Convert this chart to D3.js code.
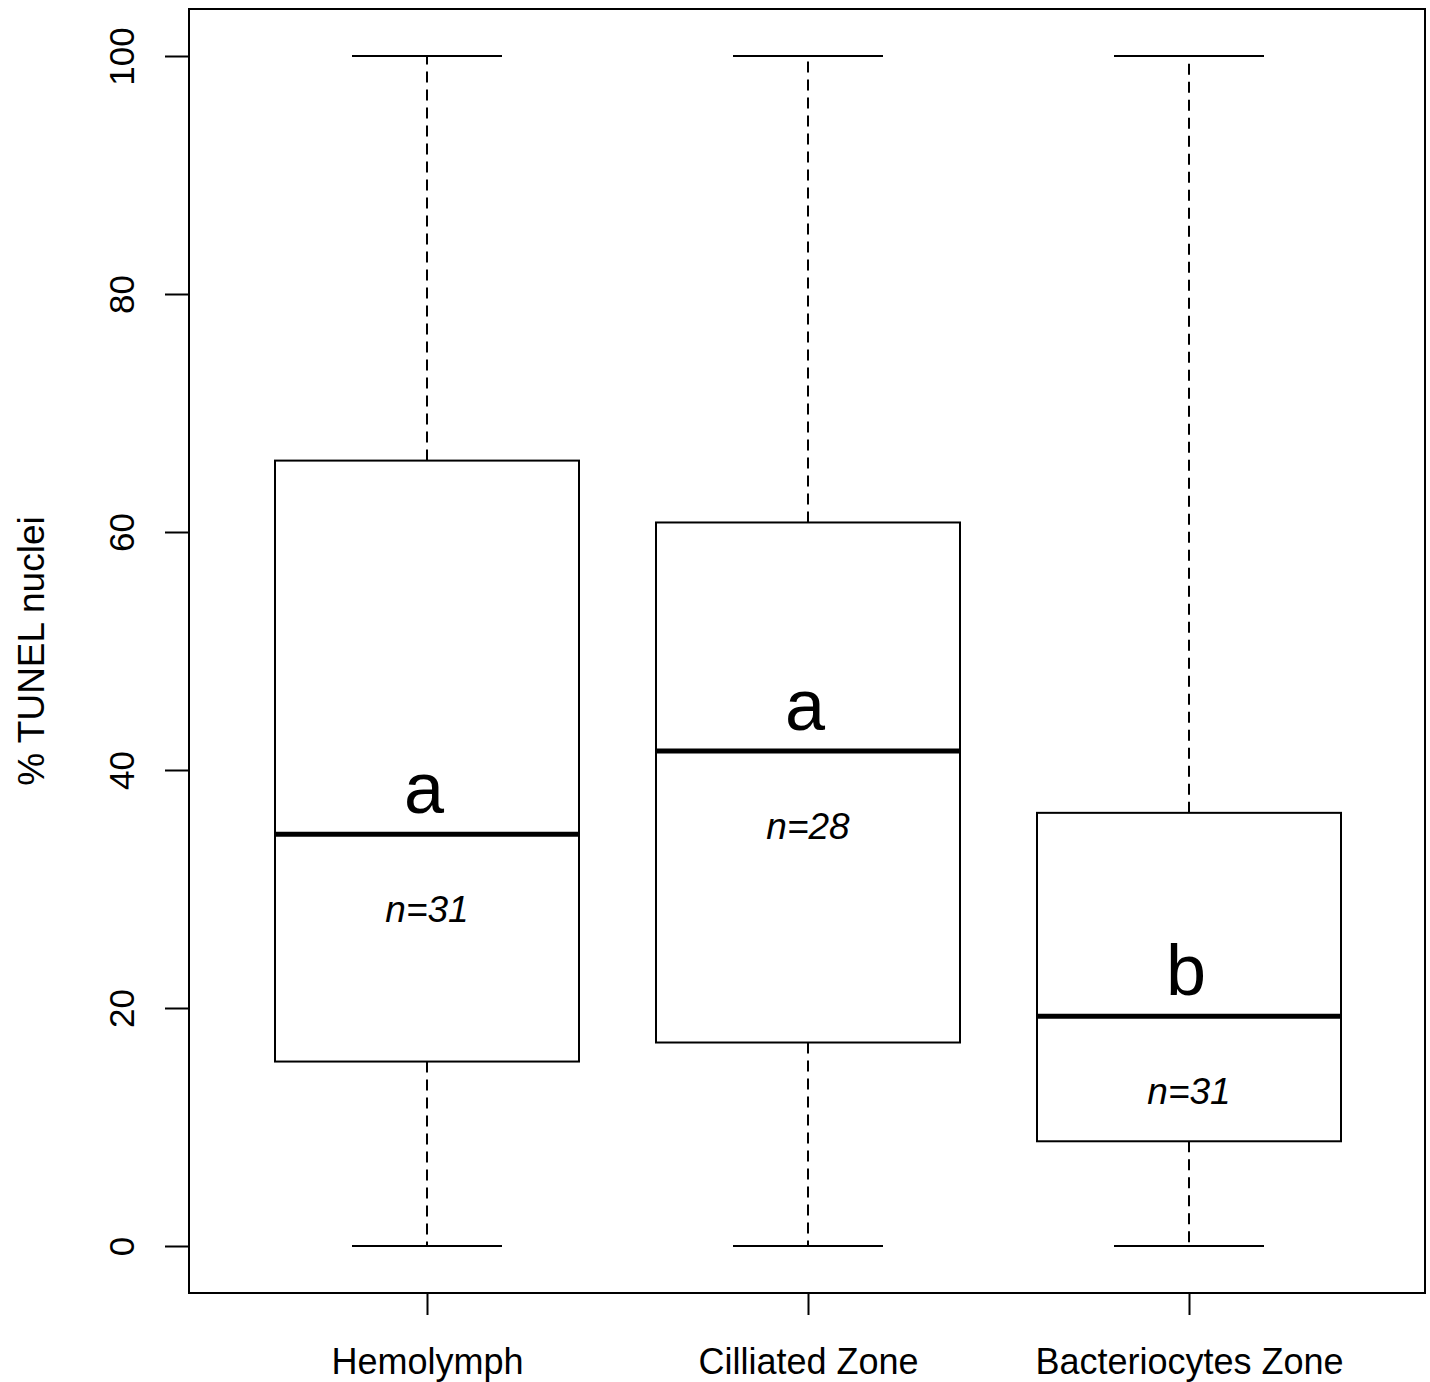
<!DOCTYPE html>
<html><head><meta charset="utf-8">
<script src="https://cdn.jsdelivr.net/npm/d3@7"></script>
<style>body{margin:0;background:#fff}svg{display:block}text{font-family:"Liberation Sans",Arial,sans-serif;fill:#000}</style>
</head><body>
<script>
const categories = ["Hemolymph", "Cilliated Zone", "Bacteriocytes Zone"];
const whiskerLow = [0, 0, 0];
const q1 = [15.5, 17.1, 8.8];
const medians = [34.6, 41.6, 19.3];
const q3 = [66.0, 60.8, 36.4];
const whiskerHigh = [100, 100, 100];
const letters = ["a", "a", "b"];
const nLabels = ["n=31", "n=28", "n=31"];
const yTicks = [0, 20, 40, 60, 80, 100];
const yLabel = "% TUNEL nuclei";

const W = 1430, H = 1382;
const frame = {l:189, t:9, r:1425, b:1293};
const svg = d3.select("body").append("svg").attr("width", W).attr("height", H);

const y = d3.scaleLinear().domain([0, 100]).range([1246, 56]);
const x = d3.scalePoint().domain(categories).range([427, 1189]);
const boxHalf = 152, capHalf = 75;

const data = categories.map((c, i) => ({c, lo:whiskerLow[i], q1:q1[i], med:medians[i], q3:q3[i], hi:whiskerHigh[i], letter:letters[i], n:nLabels[i]}));

const g = svg.append("g");
const box = g.selectAll("g.box").data(data).join("g").attr("class", "box");
// whiskers
box.append("line").attr("x1", d => x(d.c)).attr("x2", d => x(d.c)).attr("y1", d => y(d.q3)).attr("y2", d => y(d.hi))
  .attr("stroke", "#000").attr("stroke-width", 2).attr("stroke-dasharray", "11,7");
box.append("line").attr("x1", d => x(d.c)).attr("x2", d => x(d.c)).attr("y1", d => y(d.q1)).attr("y2", d => y(d.lo))
  .attr("stroke", "#000").attr("stroke-width", 2).attr("stroke-dasharray", "11,7");
// caps
box.append("line").attr("x1", d => x(d.c) - capHalf).attr("x2", d => x(d.c) + capHalf).attr("y1", d => y(d.hi)).attr("y2", d => y(d.hi))
  .attr("stroke", "#000").attr("stroke-width", 2);
box.append("line").attr("x1", d => x(d.c) - capHalf).attr("x2", d => x(d.c) + capHalf).attr("y1", d => y(d.lo)).attr("y2", d => y(d.lo))
  .attr("stroke", "#000").attr("stroke-width", 2);
// box
box.append("rect").attr("x", d => x(d.c) - boxHalf).attr("width", boxHalf * 2)
  .attr("y", d => y(d.q3)).attr("height", d => y(d.q1) - y(d.q3))
  .attr("fill", "#fff").attr("stroke", "#000").attr("stroke-width", 2);
// median
box.append("line").attr("x1", d => x(d.c) - boxHalf).attr("x2", d => x(d.c) + boxHalf).attr("y1", d => y(d.med)).attr("y2", d => y(d.med))
  .attr("stroke", "#000").attr("stroke-width", 5);
// letters
box.append("text").attr("x", d => x(d.c) - 3).attr("y", d => y(d.med) - 21).attr("text-anchor", "middle")
  .attr("font-size", 72).text(d => d.letter);
box.append("text").attr("x", d => x(d.c)).attr("y", d => y(d.med) + 88).attr("text-anchor", "middle")
  .attr("font-size", 37).attr("font-style", "italic").text(d => d.n);

// frame
svg.append("rect").attr("x", frame.l).attr("y", frame.t).attr("width", frame.r - frame.l).attr("height", frame.b - frame.t)
  .attr("fill", "none").attr("stroke", "#000").attr("stroke-width", 2);

// y axis
const yAxis = svg.append("g").attr("transform", `translate(${frame.l},0)`)
  .call(d3.axisLeft(y).tickValues(yTicks).tickSize(24).tickPadding(0).tickFormat(d3.format("d")));
yAxis.select(".domain").remove();
yAxis.selectAll(".tick line").attr("stroke", "#000").attr("stroke-width", 2);
yAxis.selectAll(".tick text").attr("font-size", 35).attr("font-family", "Liberation Sans, Arial, sans-serif")
  .attr("fill", "#000").attr("text-anchor", "middle").attr("dy", null).attr("x", null)
  .attr("transform", "translate(-68,0) rotate(-90)").attr("dominant-baseline", "central");

// x axis
const xAxis = svg.append("g").attr("transform", `translate(0,${frame.b})`)
  .call(d3.axisBottom(x).tickSize(22).tickPadding(33));
xAxis.select(".domain").remove();
xAxis.selectAll(".tick line").attr("stroke", "#000").attr("stroke-width", 2);
xAxis.selectAll(".tick text").attr("font-size", 36).attr("font-family", "Liberation Sans, Arial, sans-serif").attr("fill", "#000");

// y label
svg.append("text").attr("transform", `translate(44,${(y(0)+y(100))/2}) rotate(-90)`).attr("text-anchor", "middle")
  .attr("font-size", 37).text(yLabel);
</script>
</body></html>
